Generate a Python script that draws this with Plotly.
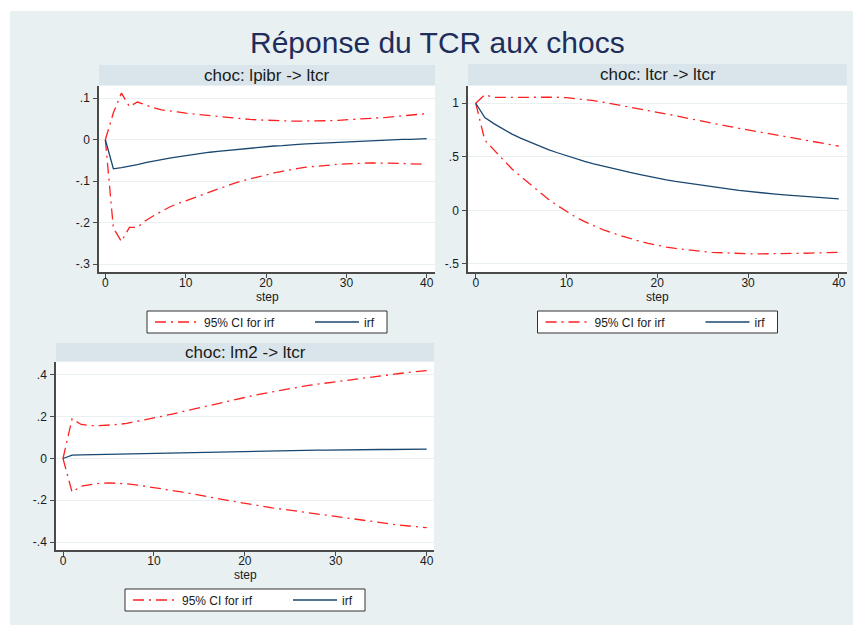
import plotly.graph_objects as go

W, H = 853, 625

steps = list(range(41))

# Panel 1: choc lpibr -> ltcr
irf_1 = [0.0, -0.0699, -0.067, -0.064, -0.060, -0.055, -0.051, -0.047, -0.044, -0.041,
         -0.038, -0.035, -0.033, -0.030, -0.028, -0.026, -0.024, -0.022, -0.020, -0.018,
         -0.017, -0.015, -0.014, -0.012, -0.011, -0.010, -0.009, -0.008, -0.007, -0.006,
         -0.005, -0.004, -0.003, -0.002, -0.0015, -0.001, 0.000, 0.001, 0.001, 0.002, 0.003]
lo_1 = [0.0, -0.213, -0.245, -0.211, -0.211, -0.195, -0.183, -0.172, -0.162, -0.154,
        -0.147, -0.139, -0.132, -0.125, -0.118, -0.112, -0.105, -0.099, -0.094, -0.089,
        -0.084, -0.080, -0.076, -0.072, -0.069, -0.066, -0.064, -0.062, -0.060, -0.059,
        -0.058, -0.057, -0.057, -0.056, -0.056, -0.056, -0.057, -0.057, -0.058, -0.058, -0.059]
up_1 = [0.0, 0.065, 0.1125, 0.080, 0.091, 0.084, 0.077, 0.072, 0.070, 0.067,
        0.064, 0.062, 0.060, 0.058, 0.056, 0.054, 0.052, 0.051, 0.049, 0.048,
        0.047, 0.046, 0.046, 0.045, 0.045, 0.045, 0.045, 0.046, 0.046, 0.047,
        0.048, 0.049, 0.050, 0.051, 0.053, 0.054, 0.056, 0.058, 0.059, 0.061, 0.063]

# Panel 2: choc ltcr -> ltcr
irf_2 = [1.0, 0.866, 0.810, 0.757, 0.712, 0.672, 0.635, 0.601, 0.568, 0.538,
         0.510, 0.483, 0.458, 0.435, 0.413, 0.392, 0.373, 0.354, 0.337, 0.318,
         0.300, 0.285, 0.270, 0.257, 0.244, 0.232, 0.220, 0.209, 0.198, 0.186,
         0.176, 0.168, 0.160, 0.152, 0.144, 0.137, 0.131, 0.125, 0.119, 0.113, 0.107]
lo_2 = [1.0, 0.656, 0.565, 0.478, 0.386, 0.314, 0.243, 0.172, 0.105, 0.045,
        -0.010, -0.062, -0.105, -0.145, -0.180, -0.210, -0.238, -0.263, -0.287, -0.308,
        -0.327, -0.342, -0.355, -0.366, -0.376, -0.384, -0.391, -0.396, -0.400, -0.403,
        -0.405, -0.406, -0.406, -0.405, -0.404, -0.402, -0.400, -0.398, -0.396, -0.394, -0.392]
up_2 = [1.0, 1.080, 1.054, 1.052, 1.052, 1.054, 1.056, 1.058, 1.058, 1.056,
        1.052, 1.044, 1.035, 1.024, 1.010, 0.995, 0.980, 0.966, 0.950, 0.934,
        0.918, 0.901, 0.884, 0.866, 0.848, 0.830, 0.814, 0.798, 0.782, 0.766,
        0.751, 0.735, 0.719, 0.703, 0.688, 0.673, 0.658, 0.643, 0.628, 0.614, 0.600]

# Panel 3: choc lm2 -> ltcr
irf_3 = [0.0, 0.016, 0.017, 0.018, 0.019, 0.020, 0.021, 0.022, 0.023, 0.024,
         0.025, 0.026, 0.027, 0.028, 0.029, 0.030, 0.031, 0.032, 0.033, 0.034,
         0.035, 0.036, 0.036, 0.037, 0.037, 0.038, 0.039, 0.039, 0.040, 0.040,
         0.041, 0.041, 0.042, 0.042, 0.043, 0.043, 0.043, 0.044, 0.044, 0.045, 0.045]
lo_3 = [0.0, -0.161, -0.132, -0.125, -0.119, -0.117, -0.118, -0.121, -0.126, -0.132,
        -0.139, -0.146, -0.153, -0.160, -0.167, -0.175, -0.183, -0.192, -0.200, -0.208,
        -0.216, -0.223, -0.229, -0.236, -0.242, -0.248, -0.255, -0.261, -0.268, -0.274,
        -0.280, -0.286, -0.292, -0.298, -0.304, -0.309, -0.314, -0.319, -0.323, -0.327, -0.331]
up_3 = [0.0, 0.190, 0.163, 0.158, 0.157, 0.159, 0.163, 0.168, 0.176, 0.185,
        0.194, 0.203, 0.213, 0.223, 0.233, 0.245, 0.254, 0.264, 0.274, 0.284,
        0.293, 0.302, 0.311, 0.319, 0.328, 0.336, 0.343, 0.350, 0.356, 0.362,
        0.368, 0.374, 0.380, 0.386, 0.391, 0.397, 0.402, 0.407, 0.412, 0.417, 0.421]

panel_titles = ["choc: lpibr -> ltcr", "choc: ltcr -> ltcr", "choc: lm2 -> ltcr"]
main_title = "Réponse du TCR aux chocs"
x_title = "step"
ci_name = "95% CI for irf"
irf_name = "irf"

x_ticks = [0, 10, 20, 30, 40]
x_ticktext = ["0", "10", "20", "30", "40"]
y_ticks_1 = [0.1, 0.0, -0.1, -0.2, -0.3]
y_ticktext_1 = [".1", "0", "-.1", "-.2", "-.3"]
y_ticks_2 = [1.0, 0.5, 0.0, -0.5]
y_ticktext_2 = ["1", ".5", "0", "-.5"]
y_ticks_3 = [0.4, 0.2, 0.0, -0.2, -0.4]
y_ticktext_3 = [".4", ".2", "0", "-.2", "-.4"]

FONT = "Liberation Sans, Arial, sans-serif"
BG = "#e8f0f2"
STRIP = "#d9e5ea"
GRID = "#e8f0f2"
AXIS = "#4a4a4a"
TXT = "#1a1a1a"
RED = "#ff2020"
NAVY = "#1a476f"
DASH = "11px,5px,2px,5px"


def px_x(p):
    return p / W


def px_y(p):
    return 1 - p / H


# panel pixel geometry: plot area (left, right, top, bottom), strip top, legend box top/bottom
panels = [
    dict(l=99, r=435, t=86, b=272, st=65, xr=[-0.79, 41.03], yr=[-0.3186, 0.1296],
         yt=y_ticks_1, ytt=y_ticktext_1, irf=irf_1, lo=lo_1, up=up_1, lt=311, lb=333),
    dict(l=468, r=847, t=86, b=272, st=64, xr=[-0.85, 40.9], yr=[-0.575, 1.161],
         yt=y_ticks_2, ytt=y_ticktext_2, irf=irf_2, lo=lo_2, up=up_2, lt=311, lb=333),
    dict(l=56, r=434, t=362, b=550, st=343, xr=[-0.77, 40.8], yr=[-0.438, 0.462],
         yt=y_ticks_3, ytt=y_ticktext_3, irf=irf_3, lo=lo_3, up=up_3, lt=589, lb=611),
]

fig = go.Figure()
layout = dict(
    width=W, height=H, margin=dict(l=0, r=0, t=0, b=0),
    paper_bgcolor=BG, plot_bgcolor="white",
    font=dict(family=FONT, size=12, color=TXT),
    showlegend=True, template="none",
)
shapes = [
    dict(type="rect", xref="paper", yref="paper", x0=0, x1=1, y0=px_y(11), y1=1,
         fillcolor="white", line=dict(width=0), layer="below"),
    dict(type="rect", xref="paper", yref="paper", x0=0, x1=px_x(10), y0=0, y1=1,
         fillcolor="white", line=dict(width=0), layer="below"),
]
annotations = [
    dict(text=main_title, x=px_x(437), y=px_y(42), xref="paper", yref="paper",
         xanchor="center", yanchor="middle", showarrow=False,
         font=dict(size=30, color="#1f2d5a", family=FONT)),
]

for i, p in enumerate(panels):
    k = "" if i == 0 else str(i + 1)
    xa, ya = "x" + k, "y" + k
    leg_ci = "legend" if i == 0 else "legend" + str(2 * i + 1)
    leg_irf = "legend" + str(2 * i + 2)
    fig.add_trace(go.Scatter(x=steps, y=p["lo"], mode="lines", name=ci_name,
                             legendgroup="ci" + k, legend=leg_ci, showlegend=True,
                             line=dict(color=RED, width=1.3, dash=DASH),
                             xaxis=xa, yaxis=ya))
    fig.add_trace(go.Scatter(x=steps, y=p["up"], mode="lines", name=ci_name,
                             legendgroup="ci" + k, legend=leg_ci, showlegend=False,
                             line=dict(color=RED, width=1.3, dash=DASH),
                             xaxis=xa, yaxis=ya))
    fig.add_trace(go.Scatter(x=steps, y=p["irf"], mode="lines", name=irf_name,
                             legend=leg_irf, showlegend=True,
                             line=dict(color=NAVY, width=1.3),
                             xaxis=xa, yaxis=ya))
    layout["xaxis" + k] = dict(
        domain=[px_x(p["l"]), px_x(p["r"])], anchor=ya, range=p["xr"],
        tickvals=x_ticks, ticktext=x_ticktext, ticks="outside", ticklen=4,
        tickcolor=AXIS, tickwidth=1, showline=True, linecolor=AXIS, linewidth=1.5,
        showgrid=False, zeroline=False, automargin=False, ticklabelstandoff=-5,
        tickfont=dict(size=12, family=FONT, color=TXT),
    )
    layout["yaxis" + k] = dict(
        domain=[px_y(p["b"]), px_y(p["t"])], anchor=xa, range=p["yr"],
        tickvals=p["yt"], ticktext=p["ytt"], ticks="outside", ticklen=4,
        tickcolor=AXIS, tickwidth=1, showline=True, linecolor=AXIS, linewidth=1.5,
        showgrid=True, gridcolor=GRID, gridwidth=1, zeroline=False, automargin=False,
        ticklabelstandoff=1,
        tickfont=dict(size=12, family=FONT, color=TXT),
    )
    # strip title box
    shapes.append(dict(type="rect", xref="paper", yref="paper",
                       x0=px_x(p["l"]), x1=px_x(p["r"]), y0=px_y(p["t"] - 1), y1=px_y(p["st"]),
                       fillcolor=STRIP, line=dict(width=0), layer="below"))
    annotations.append(dict(text=panel_titles[i], x=px_x((p["l"] + p["r"]) / 2),
                            y=px_y((p["st"] + p["t"] - 1) / 2), xref="paper", yref="paper",
                            xanchor="center", yanchor="middle", showarrow=False,
                            font=dict(size=17, family=FONT, color=TXT)))
    # x axis title
    annotations.append(dict(text=x_title, x=px_x((p["l"] + p["r"]) / 2),
                            y=px_y(p["b"] + 25), xref="paper", yref="paper",
                            xanchor="center", yanchor="middle", showarrow=False,
                            font=dict(size=12, family=FONT, color=TXT)))
    # legend frame
    cx = (p["l"] + p["r"]) / 2
    box_l = cx - 120
    shapes.append(dict(type="rect", xref="paper", yref="paper",
                       x0=px_x(box_l), x1=px_x(box_l + 240), y0=px_y(p["lb"]), y1=px_y(p["lt"]),
                       fillcolor="white", line=dict(color="#333333", width=1), layer="below"))
    ymid = px_y((p["lt"] + p["lb"]) / 2)
    common = dict(y=ymid, xanchor="left", yanchor="middle", xref="paper", yref="paper",
                  orientation="h", bgcolor="rgba(0,0,0,0)", borderwidth=0,
                  font=dict(size=12, family=FONT, color=TXT), itemwidth=44)
    layout[leg_ci] = dict(x=px_x(box_l + 3), **common)
    layout[leg_irf] = dict(x=px_x(box_l + 163), **common)

layout["shapes"] = shapes
layout["annotations"] = annotations
fig.update_layout(**layout)
fig.write_html("out.html")
